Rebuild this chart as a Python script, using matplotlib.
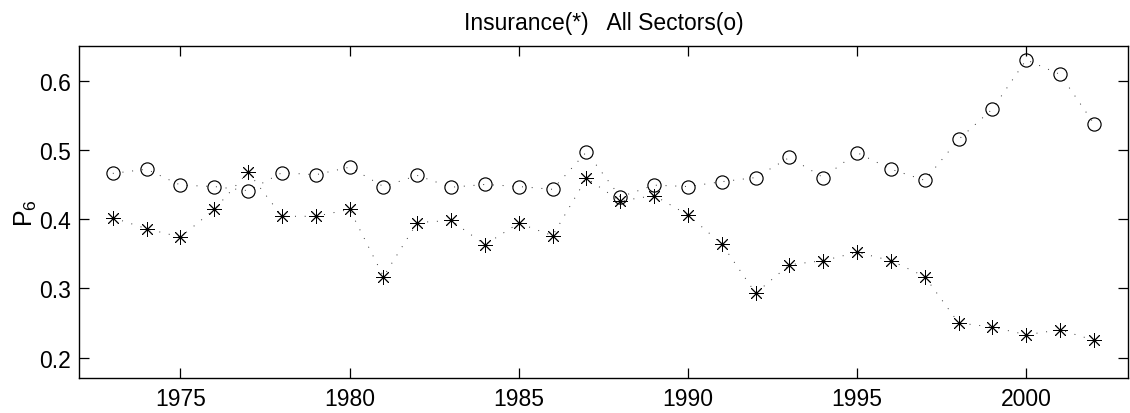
import matplotlib
matplotlib.use("Agg")
import matplotlib.pyplot as plt

plt.rcParams['font.family'] = ['Liberation Sans', 'DejaVu Sans']

years = list(range(1973, 2003))
insurance = [0.402, 0.386, 0.374, 0.414, 0.468, 0.404, 0.404, 0.414, 0.317, 0.395,
             0.398, 0.363, 0.394, 0.376, 0.459, 0.426, 0.434, 0.406, 0.364, 0.293,
             0.334, 0.340, 0.352, 0.340, 0.317, 0.250, 0.244, 0.233, 0.240, 0.225]
all_sectors = [0.466, 0.472, 0.449, 0.447, 0.441, 0.467, 0.464, 0.475, 0.447, 0.463,
               0.446, 0.450, 0.447, 0.443, 0.497, 0.432, 0.449, 0.447, 0.454, 0.460,
               0.489, 0.460, 0.496, 0.472, 0.456, 0.515, 0.559, 0.630, 0.609, 0.538]
xticks = [1975, 1980, 1985, 1990, 1995, 2000]
yticks = [0.2, 0.3, 0.4, 0.5, 0.6]

fig = plt.figure(figsize=(11.3, 4.14), dpi=100)
ax = fig.add_axes([0.0699, 0.0838, 0.9281, 0.8027])

dots = (0, (1, 9))
ax.plot(years, all_sectors, linestyle=dots, color='#333333', linewidth=0.7,
        marker='o', markersize=9.5, markerfacecolor='none', markeredgecolor='black',
        markeredgewidth=0.85)
ax.plot(years, insurance, linestyle=dots, color='#333333', linewidth=0.7,
        marker=(8, 2, 0), markersize=10.5, markeredgecolor='black',
        markeredgewidth=0.65)

ax.set_xlim(1972, 2003)
ax.set_ylim(0.17, 0.65)
ax.set_xticks(xticks)
ax.set_xticklabels([str(t) for t in xticks])
ax.set_yticks(yticks)
ax.set_yticklabels([f"{t:.1f}" for t in yticks])
ax.tick_params(direction='in', top=True, right=True, length=7.5, width=0.9,
               labelsize=16.5, pad=6)
for s in ax.spines.values():
    s.set_linewidth(1.0)

ax.set_title('Insurance(*)   All Sectors(o)', fontsize=16.5, pad=12)
ax.set_ylabel(r'$\mathregular{P_6}$', fontsize=18, labelpad=0)

fig.savefig('out.png', dpi=100)
